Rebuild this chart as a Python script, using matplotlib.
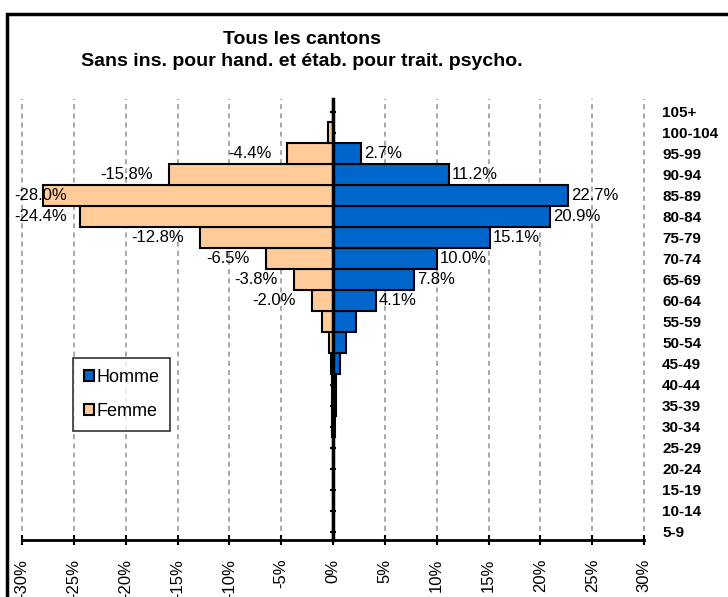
import numpy as np
import matplotlib.pyplot as plt
from matplotlib.patches import Rectangle

plt.rcParams['font.family'] = ['Liberation Sans', 'DejaVu Sans']

# age groups, bottom to top
ages = ['5-9', '10-14', '15-19', '20-24', '25-29', '30-34', '35-39', '40-44',
        '45-49', '50-54', '55-59', '60-64', '65-69', '70-74', '75-79', '80-84',
        '85-89', '90-94', '95-99', '100-104', '105+']
homme = [0.0, 0.0, 0.0, 0.0, 0.05, 0.15, 0.3, 0.3, 0.7, 1.3, 2.2, 4.1,
         7.8, 10.0, 15.1, 20.9, 22.7, 11.2, 2.7, 0.0, 0.0]
femme = [0.0, 0.0, 0.0, 0.0, 0.0, 0.05, 0.1, 0.1, 0.2, 0.4, 1.1, 2.0,
         3.8, 6.5, 12.8, 24.4, 28.0, 15.8, 4.4, 0.5, 0.0]
# rows that carry a value label
labelled = ['60-64', '65-69', '70-74', '75-79', '80-84', '85-89', '90-94', '95-99']

blue = '#0066CC'
peach = '#FFCC99'

fig = plt.figure(figsize=(7.28, 5.97), dpi=100)
ax = fig.add_axes([22/728, 1 - 540/597, 622/728, 441/597])

y = np.arange(len(ages))
ax.barh(y, homme, height=1.0, color=blue, edgecolor='black', linewidth=1.5, label='Homme', zorder=3)
ax.barh(y, [-v for v in femme], height=1.0, color=peach, edgecolor='black', linewidth=1.5, label='Femme', zorder=3)

ax.set_xlim(-30, 30)
ax.set_ylim(-0.4, 20.6)

ticks = np.arange(-30, 31, 5)
ax.set_xticks(ticks)
ax.set_xticklabels(['%d%%' % t for t in ticks], rotation=90, fontsize=12)
ax.grid(axis='x', color='#999999', linestyle=(0, (3, 2.5)), linewidth=1.2, zorder=0)
for t in ax.get_xgridlines():
    t.set_clip_on(False)

for s in ['top', 'right']:
    ax.spines[s].set_visible(False)
ax.spines['bottom'].set_linewidth(2)
ax.spines['left'].set_position(('data', 0))
ax.spines['left'].set_linewidth(2.5)
ax.spines['left'].set_zorder(5)
ax.set_yticks(y)
ax.set_yticklabels([])
ax.tick_params(axis='y', direction='inout', length=5, width=1.5)
ax.tick_params(axis='x', direction='inout', length=7, width=1.5, pad=10)

# age labels on the right
ax2 = ax.twinx()
ax2.set_ylim(ax.get_ylim())
ax2.set_yticks(y)
ax2.set_yticklabels(ages, fontsize=11, fontweight='bold')
ax2.tick_params(axis='y', length=0, pad=13)
for s in ax2.spines.values():
    s.set_visible(False)

for i, a in enumerate(ages):
    if a not in labelled:
        continue
    ax.text(homme[i] + 0.3, i, '%.1f%%' % homme[i], ha='left', va='center', fontsize=12, zorder=6)
    xr = max(-femme[i] - 1.55, -25.7)
    ax.text(xr, i, '-%.1f%%' % femme[i], ha='right', va='center', fontsize=12, zorder=6)

leg = ax.legend(loc='upper left', bbox_to_anchor=(51/622, (540 - 358)/441), fontsize=13,
                frameon=True, fancybox=False, edgecolor='black', handlelength=0.55,
                handleheight=0.55, handletextpad=0.15, labelspacing=0.95, borderpad=0.6,
                borderaxespad=0)
leg.get_frame().set_linewidth(1.2)
leg.set_zorder(10)

fig.text(302/728, 1 - 40/597, 'Tous les cantons', ha='center', va='center',
         fontsize=14, fontweight='bold')
fig.text(302/728, 1 - 61/597, 'Sans ins. pour hand. et étab. pour trait. psycho.',
         ha='center', va='center', fontsize=14, fontweight='bold')

fig.patches.append(Rectangle((7/728, -0.1), 1.2, 1 - 14/597 + 0.1, transform=fig.transFigure,
                             fill=False, edgecolor='black', linewidth=2.5))

fig.savefig('out.png', dpi=100)
